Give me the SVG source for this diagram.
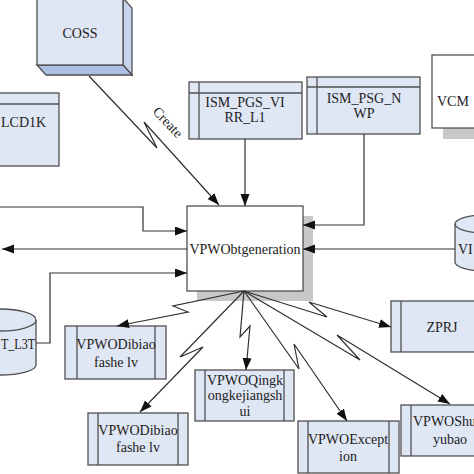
<svg xmlns="http://www.w3.org/2000/svg" width="474" height="474" viewBox="0 0 474 474">
<style>
.bx{fill:#dfe6f4;stroke:#505050;stroke-width:1.3}
.wb{fill:#ffffff;stroke:#505050;stroke-width:1.3}
.sh{fill:#c8c8c8}
.ln{fill:none;stroke:#505050;stroke-width:1.3}
.cn{fill:none;stroke:#303030;stroke-width:1.2}
text{font-family:"Liberation Serif","Times New Roman",serif;font-size:14px;fill:#222}
.c{text-anchor:middle}
</style>
<defs>
<marker id="ah" markerUnits="userSpaceOnUse" markerWidth="13" markerHeight="10" refX="12" refY="4.5" orient="auto">
<path d="M0,0 L12,4.5 L0,9 z" fill="#111"/>
</marker>
</defs>
<rect width="474" height="474" fill="#ffffff"/>

<g id="coss">
<polygon points="123,-2 132,8 132,75 123,65" fill="#c6d3ec" stroke="#505050" stroke-width="1.3"/>
<polygon points="37,65 123,65 132,75 46,75" fill="#adbfe2" stroke="#505050" stroke-width="1.3"/>
<rect class="bx" x="37" y="-2" width="86" height="67"/>
<text class="c" x="80" y="38">COSS</text>
</g>

<g id="lcd1k">
<rect class="bx" x="-2" y="93" width="61" height="73"/>
<line class="ln" x1="-2" y1="104" x2="59" y2="104"/>
<text x="1" y="127">LCD1K</text>
</g>

<g id="ism_pgs">
<rect class="bx" x="189" y="82" width="113" height="57"/>
<line class="ln" x1="189" y1="93" x2="302" y2="93"/>
<line class="ln" x1="199" y1="82" x2="199" y2="139"/>
<text class="c" x="245" y="107">ISM_PGS_VI</text>
<text class="c" x="245" y="122">RR_L1</text>
</g>

<g id="ism_psg">
<rect class="bx" x="307" y="77" width="113" height="57"/>
<line class="ln" x1="307" y1="87" x2="420" y2="87"/>
<line class="ln" x1="317" y1="77" x2="317" y2="134"/>
<text class="c" x="364" y="103">ISM_PSG_N</text>
<text class="c" x="364" y="118">WP</text>
</g>

<g id="vcm">
<rect class="sh" x="443" y="65" width="60" height="74"/>
<rect class="wb" x="432" y="55" width="60" height="73"/>
<text x="437" y="106">VCM</text>
</g>

<g id="vpwo">
<rect class="sh" x="197" y="216" width="116" height="85"/>
<rect class="wb" x="187" y="206" width="116" height="85"/>
<text class="c" x="245" y="254" font-size="13.5">VPWObtgeneration</text>
</g>

<g id="vi">
<path d="M455,224 L455,262 A30,9 0 0 0 515,262 L515,224" fill="#dfe6f4" stroke="#505050" stroke-width="1.3"/>
<ellipse cx="485" cy="224" rx="30" ry="9" fill="#dfe6f4" stroke="#505050" stroke-width="1.3"/>
<text x="458" y="254">VI</text>
</g>

<g id="l3t">
<path d="M-36,320 L-36,365 A36,10 0 0 0 36,365 L36,320" fill="#dfe6f4" stroke="#505050" stroke-width="1.3"/>
<ellipse cx="0" cy="320" rx="36" ry="11" fill="#dfe6f4" stroke="#505050" stroke-width="1.3"/>
<text x="1" y="349" font-size="13" textLength="34" lengthAdjust="spacingAndGlyphs">T_L3T</text>
</g>

<g id="dibiao1">
<rect class="bx" x="65" y="326" width="101" height="53"/>
<line class="ln" x1="77" y1="326" x2="77" y2="379"/>
<line class="ln" x1="155" y1="326" x2="155" y2="379"/>
<text class="c" x="116" y="349">VPWODibiao</text>
<text class="c" x="116" y="367">fashe lv</text>
</g>

<g id="dibiao2">
<rect class="bx" x="88" y="413" width="100" height="52"/>
<line class="ln" x1="98" y1="413" x2="98" y2="465"/>
<line class="ln" x1="178" y1="413" x2="178" y2="465"/>
<text class="c" x="138" y="435">VPWODibiao</text>
<text class="c" x="138" y="452">fashe lv</text>
</g>

<g id="qingk">
<rect class="bx" x="195" y="370" width="99" height="51"/>
<line class="ln" x1="205" y1="370" x2="205" y2="421"/>
<line class="ln" x1="284" y1="370" x2="284" y2="421"/>
<text class="c" x="245" y="385">VPWOQingk</text>
<text class="c" x="245" y="400">ongkejiangsh</text>
<text class="c" x="245" y="416">ui</text>
</g>

<g id="exception">
<rect class="bx" x="298" y="421" width="101" height="52"/>
<line class="ln" x1="308" y1="421" x2="308" y2="473"/>
<line class="ln" x1="389" y1="421" x2="389" y2="473"/>
<text class="c" x="348" y="444">VPWOExcept</text>
<text class="c" x="348" y="461">ion</text>
</g>

<g id="shuyubao">
<rect class="bx" x="401" y="405" width="100" height="51"/>
<line class="ln" x1="411" y1="405" x2="411" y2="456"/>
<text x="413" y="426" font-size="12">VPWOShu</text>
<text class="c" x="450" y="444">yubao</text>
</g>

<g id="zprj">
<rect class="bx" x="391" y="301" width="100" height="51"/>
<line class="ln" x1="401" y1="301" x2="401" y2="352"/>
<text class="c" x="442" y="332" font-size="13">ZPRJ</text>
</g>

<g id="connectors">
<path class="cn" d="M89,76 L157,148 L144,122 L219,205" marker-end="url(#ah)"/>
<text x="0" y="0" font-size="12" transform="translate(152,112) rotate(47)">Create</text>
<path class="cn" d="M245,139 V206" marker-end="url(#ah)"/>
<path class="cn" d="M364,134 V225 H303" marker-end="url(#ah)"/>
<path class="cn" d="M0,207 H143 V231 H187" marker-end="url(#ah)"/>
<path class="cn" d="M187,249 H2" marker-end="url(#ah)"/>
<path class="cn" d="M455,249 H303" marker-end="url(#ah)"/>
<path class="cn" d="M36,343 H50 V273 H187" marker-end="url(#ah)"/>
<path class="cn" d="M244,291 L173,306 L188,312 L117,326" marker-end="url(#ah)"/>
<path class="cn" d="M244,291 L180,357 L203,347 L140,412" marker-end="url(#ah)"/>
<path class="cn" d="M244,291 L240,337 L250,326 L246,370" marker-end="url(#ah)"/>
<path class="cn" d="M244,291 L299,369 L294,344 L347,421" marker-end="url(#ah)"/>
<path class="cn" d="M244,291 L360,360 L337,335 L450,404" marker-end="url(#ah)"/>
<path class="cn" d="M244,291 L327,317 L309,302 L391,327" marker-end="url(#ah)"/>
</g>
</svg>
